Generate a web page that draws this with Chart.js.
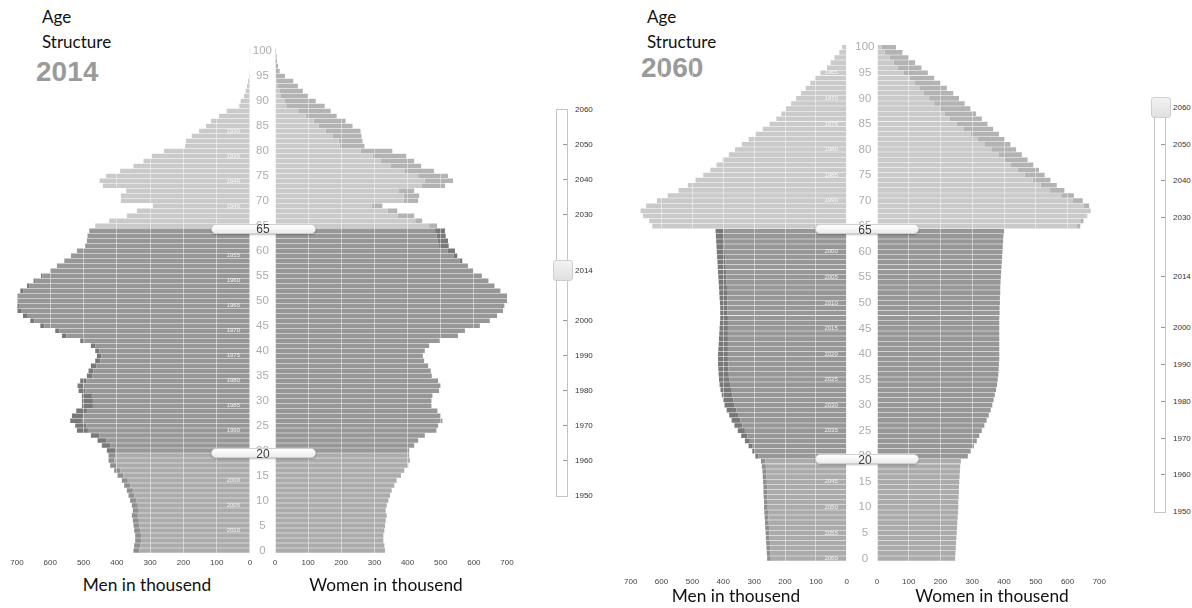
<!DOCTYPE html>
<html>
<head>
<meta charset="utf-8">
<script src="https://cdn.jsdelivr.net/npm/chart.js@4.4.1/dist/chart.umd.min.js"></script>
<style>
  html, body { margin: 0; padding: 0; background: #fff; }
  body { width: 1192px; height: 608px; position: relative; overflow: hidden; font-family: Lato, "Open Sans", sans-serif; }
  .box { position: absolute; }
  .title { position: absolute; font-size: 17px; line-height: 1.2; color: #111; white-space: nowrap; }
  .bigyear { position: absolute; font-family: "Liberation Sans", Arial, sans-serif; font-weight: bold; font-size: 28px; line-height: 1; color: #9a9a9a; }
  .axis-title { position: absolute; font-size: 17.3px; line-height: 1.2; color: #111; white-space: nowrap; transform: translateX(-50%); }
  .handle { position: absolute; height: 8px; border: 1px solid #d0d0d0; border-radius: 5px; background: linear-gradient(#ffffff, #ececec); box-shadow: 0 1px 2px rgba(0,0,0,0.25); }
  .handle-num { position: absolute; font-family: "Liberation Sans", Arial, sans-serif; font-size: 12px; color: #3c3c3c; transform: translate(-50%, -50%); }
  .track { position: absolute; width: 10px; border: 1px solid #c4c4c4; background: #fff; }
  .tick { position: absolute; width: 4px; height: 1px; background: #999; }
  .ylabel { position: absolute; font-family: "Liberation Sans", Arial, sans-serif; font-size: 8px; color: #333; transform: translateY(-50%); }
  .knob { position: absolute; width: 18px; height: 19px; border: 1px solid #cfcfcf; border-radius: 3px; background: linear-gradient(#f2f2f2, #e0e0e0); }
</style>
</head>
<body>

<div class="title" style="left:42px; top:7px;">Age</div>
<div class="title" style="left:42px; top:32px;">Structure</div>
<div class="bigyear" style="left:36px; top:58px;">2014</div>

<div class="title" style="left:647px; top:7px;">Age</div>
<div class="title" style="left:647px; top:32px;">Structure</div>
<div class="bigyear" style="left:641px; top:54px;">2060</div>

<div class="box" style="left:0px; top:0px; width:262px; height:573px;"><canvas id="men2014"></canvas></div>
<div class="box" style="left:250px; top:0px; width:271px; height:573px;"><canvas id="women2014"></canvas></div>
<div class="box" style="left:608px; top:0px; width:257px; height:590px;"><canvas id="men2060"></canvas></div>
<div class="box" style="left:853px; top:0px; width:269px; height:590px;"><canvas id="women2060"></canvas></div>

<div class="axis-title" style="left:147px; top:575px;">Men in thousend</div>
<div class="axis-title" style="left:386px; top:575px;">Women in thousend</div>
<div class="axis-title" style="left:736px; top:586px;">Men in thousend</div>
<div class="axis-title" style="left:992px; top:586px;">Women in thousend</div>

<div id="overlay"></div>

<script>
// ages 0..100, one bar per single year of age
const ages = Array.from({ length: 101 }, (_, i) => String(i));

// population in thousand, index = age
const men2014 = [
  350, 348, 345, 345, 348, 350, 352, 355, 352, 355,
  360, 365, 370, 378, 385, 398, 408, 420, 425, 425,
  430, 445, 458, 478, 520, 525, 540, 535, 522, 505,
  505, 505, 515, 518, 510, 490, 485, 478, 465, 460,
  465, 478, 510, 565, 585, 630, 660, 682, 700, 702,
  715, 712, 690, 670, 650, 628, 600, 580, 558, 538,
  520, 495, 490, 488, 483, 465, 423, 370, 340, 292,
  388, 388, 372, 442, 452, 432, 390, 350, 320, 295,
  258, 195, 192, 175, 153, 132, 117, 93, 70, 34,
  28, 18, 13, 9, 6, 3, 2, 1.5, 1, 1,
  0.5
];
const women2014 = [
  332, 330, 327, 327, 330, 332, 334, 337, 334, 337,
  342, 347, 352, 360, 367, 380, 390, 402, 407, 405,
  405, 420, 432, 452, 487, 492, 505, 500, 490, 472,
  472, 475, 495, 500, 492, 473, 470, 462, 450, 446,
  452, 465, 497, 552, 573, 618, 648, 670, 688, 692,
  704, 700, 680, 662, 644, 624, 598, 582, 565, 550,
  543, 524, 522, 515, 513, 489, 444, 420, 369, 324,
  432, 435, 420, 513, 537, 522, 480, 441, 420, 396,
  354, 270, 264, 261, 258, 234, 213, 186, 168, 150,
  123, 99, 84, 69, 55, 30, 14, 9, 6, 5,
  3
];
const men2060 = [
  258, 259, 260, 261, 262, 263, 264, 265, 266, 267,
  268, 268, 269, 270, 270, 271, 272, 273, 275, 278,
  296, 306, 318, 330, 342, 353, 364, 373, 381, 389,
  396, 401, 405, 409, 412, 414, 415, 416, 417, 417,
  417, 416, 415, 414, 413, 412, 411, 410, 410, 410,
  411, 412, 413, 414, 415, 416, 417, 418, 419, 420,
  421, 422, 423, 424, 425, 630, 640, 660, 668, 650,
  615, 580, 545, 515, 490, 465, 442, 422, 402, 382,
  362, 340, 318, 295, 272, 250, 228, 212, 197, 180,
  164, 148, 133, 118, 103, 85, 64, 52, 40, 24,
  15
];
const women2060 = [
  246, 247, 248, 249, 250, 251, 252, 253, 254, 255,
  256, 256, 257, 258, 258, 259, 260, 261, 262, 264,
  286, 295, 305, 314, 322, 330, 338, 345, 352, 358,
  363, 367, 371, 375, 378, 380, 382, 383, 384, 385,
  385, 385, 385, 385, 385, 385, 385, 385, 386, 386,
  387, 387, 388, 388, 389, 390, 391, 392, 393, 394,
  395, 396, 397, 398, 400, 640, 650, 662, 672, 668,
  648, 620, 590, 566, 546, 528, 510, 492, 474, 456,
  438, 420, 402, 384, 366, 348, 330, 312, 294, 276,
  258, 240, 220, 200, 180, 160, 140, 120, 100, 80,
  60
];

const sliderYears = [2060, 2050, 2040, 2030, 2014, 2000, 1990, 1980, 1970, 1960, 1950];

const bandColors = {
  old:   { base: '#cacaca', extra: '#b3b3b3' },
  work:  { base: '#979797', extra: '#787878' },
  young: { base: '#ababab', extra: '#8e8e8e' }
};

function bandFor(age) {
  if (age >= 65) return bandColors.old;
  if (age >= 20) return bandColors.work;
  return bandColors.young;
}

// shared part in the band colour, the surplus over the other sex a shade darker
function buildBars(own, other) {
  const common = { barPercentage: 0.9, categoryPercentage: 1, borderWidth: 0, stack: 'pop' };
  return [
    { ...common, data: own.map((v, i) => Math.min(v, other[i])), backgroundColor: own.map((_, i) => bandFor(i).base) },
    { ...common, data: own.map((v, i) => Math.max(0, v - other[i])), backgroundColor: own.map((_, i) => bandFor(i).extra) }
  ];
}

// small birth-year labels inside the men's bars
const birthYearPlugin = {
  id: 'birthYears',
  afterDatasetsDraw(chart, args, opts) {
    if (!opts || !opts.labels) return;
    const { ctx, chartArea, scales } = chart;
    ctx.save();
    ctx.font = '6px "Liberation Sans", Arial, sans-serif';
    ctx.fillStyle = 'rgba(255,255,255,0.85)';
    ctx.textAlign = 'right';
    ctx.textBaseline = 'middle';
    opts.labels.forEach(([age, text]) => {
      ctx.fillText(text, chartArea.right - opts.inset, scales.y.getPixelForValue(age));
    });
    ctx.restore();
  }
};

function sideChart(canvasId, own, other, isMen, geo, yearLabels) {
  const xScale = {
    reverse: isMen,
    min: 0,
    max: 700,
    stacked: true,
    ticks: { stepSize: 100, color: '#444', font: { size: 8, family: '"Liberation Sans", Arial' }, padding: geo.tickPad, maxRotation: 0 },
    grid: { color: 'rgba(255,255,255,0.45)', z: 1, drawTicks: false },
    border: { display: false },
    afterFit: (s) => { s.height = geo.axisH; }
  };
  const yScale = isMen
    ? { type: 'category', reverse: true, stacked: true, display: false }
    : {
        type: 'category', reverse: true, stacked: true, position: 'left',
        grid: { display: false, drawTicks: false },
        border: { display: false },
        ticks: {
          autoSkip: false, crossAlign: 'center', padding: geo.agePad, color: '#adadad',
          font: { size: 11.5, family: '"Liberation Sans", Arial' },
          callback: function (val) {
            const a = Number(this.getLabelForValue(val));
            return a % 5 === 0 ? String(a) : '';
          }
        },
        afterFit: (s) => { s.width = geo.gap; }
      };

  return new Chart(document.getElementById(canvasId), {
    type: 'bar',
    data: { labels: ages, datasets: buildBars(own, other) },
    options: {
      indexAxis: 'y',
      responsive: true,
      maintainAspectRatio: false,
      animation: false,
      layout: { padding: isMen ? { top: geo.top, left: 17, right: 12, bottom: 0 } : { top: geo.top, left: 0, right: 14, bottom: 0 } },
      plugins: {
        legend: { display: false },
        tooltip: { enabled: false },
        birthYears: isMen ? { labels: yearLabels, inset: geo.inset } : {}
      },
      scales: { x: xScale, y: yScale }
    },
    plugins: [birthYearPlugin]
  });
}

const geo2014 = { top: 48.5, axisH: 20, tickPad: 5, gap: 25, agePad: 3, inset: 10 };
const geo2060 = { top: 44.7, axisH: 29, tickPad: 16, gap: 24, agePad: 2.5, inset: 9 };

const years2014 = [];
for (let a = 4; a <= 89; a += 5) years2014.push([String(a), String(2014 - a)]);
const years2060 = [];
for (let a = 0; a <= 95; a += 5) years2060.push([String(a), String(2060 - a)]);

sideChart('men2014', men2014, women2014, true, geo2014, years2014);
sideChart('women2014', women2014, men2014, false, geo2014);
sideChart('men2060', men2060, women2060, true, geo2060, years2060);
sideChart('women2060', women2060, men2060, false, geo2060);

// age band handles (65 and 20) and the year sliders, drawn as page elements
const overlay = document.getElementById('overlay');
function addEl(cls, style, text) {
  const el = document.createElement('div');
  el.className = cls;
  Object.assign(el.style, style);
  if (text) el.textContent = text;
  overlay.appendChild(el);
  return el;
}

[
  { left: 211, width: 103, mid: 263, y65: 228.5, y20: 453 },
  { left: 815, width: 102, mid: 865, y65: 229, y20: 459 }
].forEach(h => {
  [['65', h.y65], ['20', h.y20]].forEach(([txt, y]) => {
    addEl('handle', { left: h.left + 'px', top: (y - 5) + 'px', width: h.width + 'px' });
    addEl('handle-num', { left: h.mid + 'px', top: (y + 0.5) + 'px' }, txt);
  });
});

[
  { x: 556, top: 109, bottom: 495, current: 2014, labelX: 575 },
  { x: 1154, top: 107, bottom: 511, current: 2060, labelX: 1173 }
].forEach(s => {
  const perYear = (s.bottom - s.top) / (2060 - 1950);
  const yOf = yr => s.top + (2060 - yr) * perYear;
  addEl('track', { left: s.x + 'px', top: s.top + 'px', height: (s.bottom - s.top) + 'px' });
  sliderYears.forEach(yr => {
    const y = yOf(yr);
    if (yr !== 2060 && yr !== 1950) addEl('tick', { left: (s.x + 7) + 'px', top: y + 'px' });
    addEl('ylabel', { left: s.labelX + 'px', top: y + 'px' }, String(yr));
  });
  const ky = yOf(s.current);
  addEl('knob', { left: (s.x - 3) + 'px', top: (ky - 10) + 'px' });
});
</script>
</body>
</html>
